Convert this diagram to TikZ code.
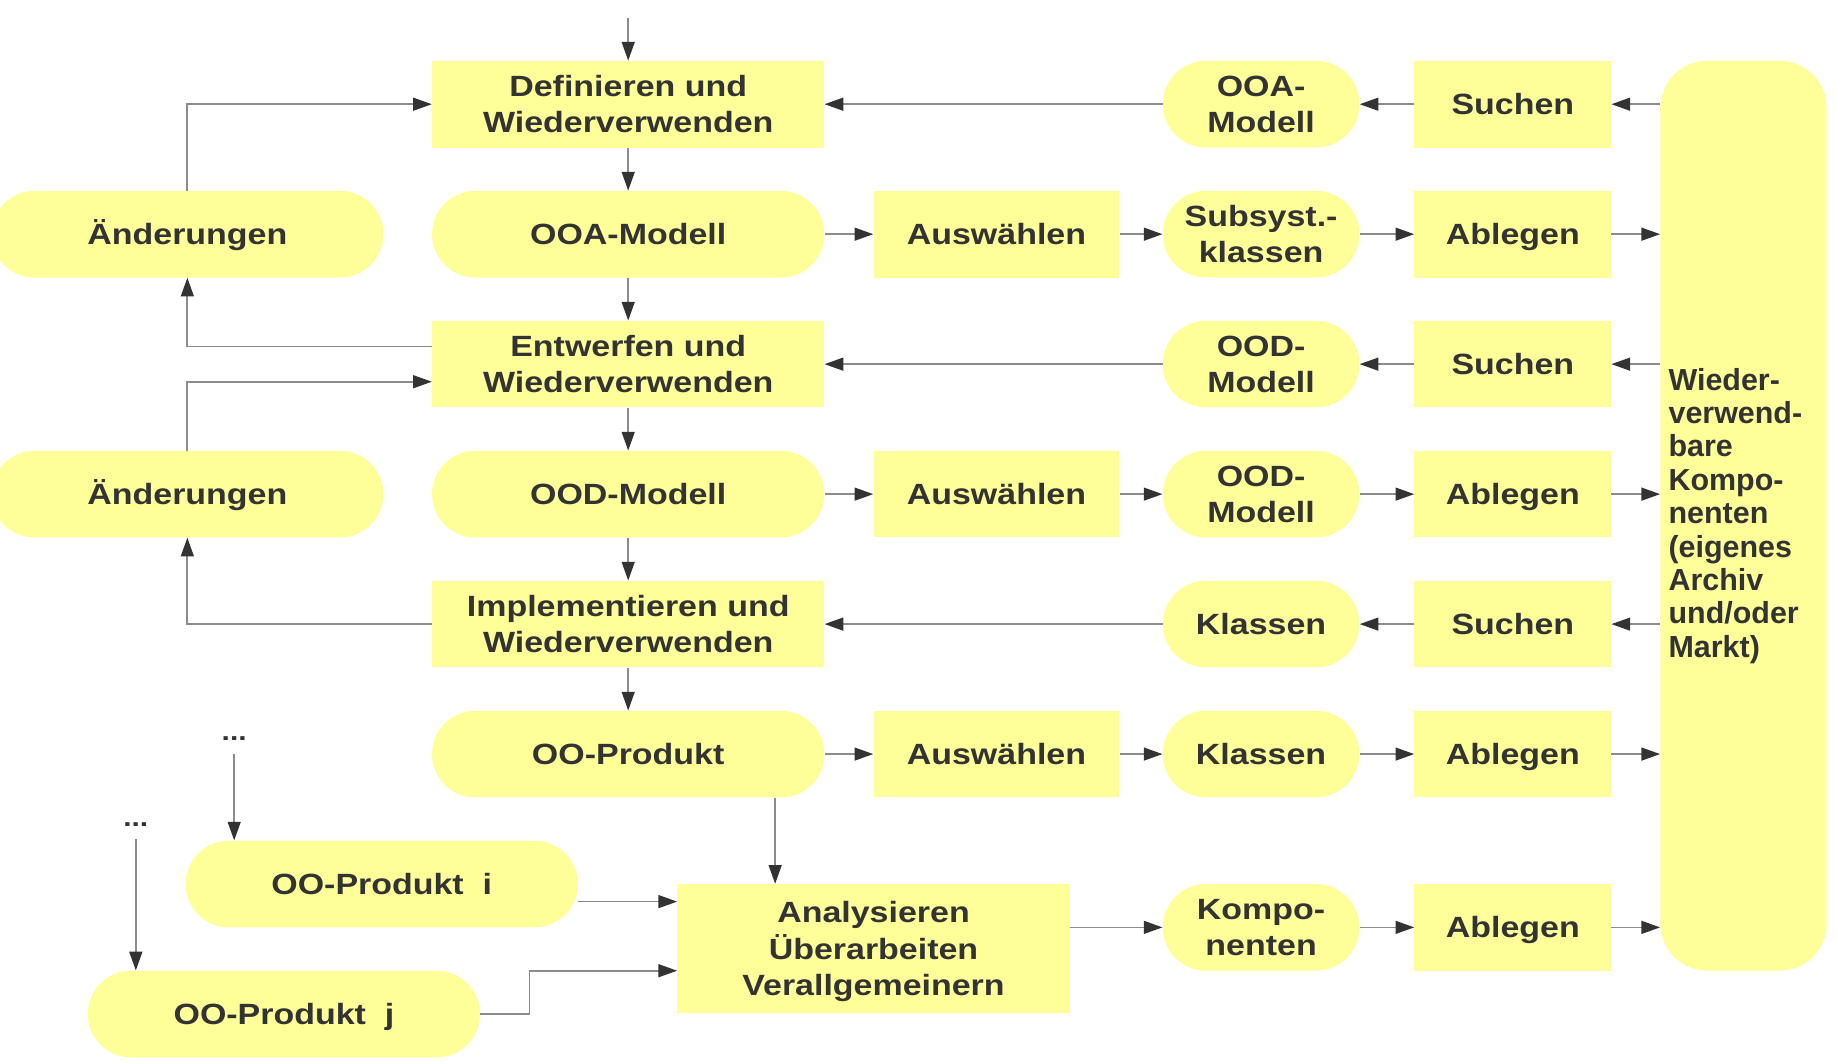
\documentclass[tikz,border=0pt]{standalone}
\usepackage{fontspec}
\setmainfont{Liberation Sans}[FakeStretch=1.16]
\newfontfamily\archivfont{Liberation Sans}
\usetikzlibrary{arrows.meta}
\definecolor{gelb}{HTML}{FFFF99}
\definecolor{txt}{HTML}{333333}
\definecolor{linie}{HTML}{8C8C8C}

\begin{document}
\begin{tikzpicture}[x=1pt, y=-1pt,
    every node/.style={text=txt, font=\fontsize{25}{31}\selectfont\bfseries, align=center, inner sep=0pt},
    flaeche/.style={fill=gelb, minimum height=74pt},
    kasten/.style={flaeche, text height=18pt, text depth=0pt},
    oval/.style={kasten, rounded corners=37pt},
    kasten2/.style={flaeche},
    oval2/.style={flaeche, rounded corners=37pt},
    breit/.style={minimum width=335pt},
    mittel/.style={minimum width=210pt},
    schmal/.style={minimum width=168pt},
    punkte/.style={font=\fontsize{22}{22}\selectfont\bfseries, inner ysep=11pt, text height=3pt, text depth=0pt},
    pfeil/.style={draw=linie, line width=1.5pt, -{Triangle[length=16pt, width=11pt, color=txt, fill=txt]}}]
    \useasboundingbox (0,0) rectangle (1568,907);

    % Hauptspalte
    \coordinate (start) at (536.5,15);
    \node[kasten2, breit] (defin) at (536.5,89) {Definieren und\\Wiederverwenden};
    \node[oval, breit] (ooa) at (536.5,200) {OOA-Modell};
    \node[kasten2, breit] (entw) at (536.5,311) {Entwerfen und\\Wiederverwenden};
    \node[oval, breit] (ood) at (536.5,422) {OOD-Modell};
    \node[kasten2, breit] (impl) at (536.5,533) {Implementieren und\\Wiederverwenden};
    \node[oval, breit] (prod) at (536.5,644) {OO-Produkt};

    % Aenderungen
    \node[oval, breit] (aend1) at (160,200) {Änderungen};
    \node[oval, breit] (aend2) at (160,422) {Änderungen};

    % Auswaehlen, Ergebnisse, Suchen/Ablegen
    \node[kasten, mittel] (ausw1) at (851,200) {Auswählen};
    \node[kasten, mittel] (ausw2) at (851,422) {Auswählen};
    \node[kasten, mittel] (ausw3) at (851,644) {Auswählen};
    \node[oval2, schmal] (ooam) at (1077,89) {OOA-\\Modell};
    \node[oval2, schmal] (subs) at (1077,200) {Subsyst.-\\klassen};
    \node[oval2, schmal] (oodm1) at (1077,311) {OOD-\\Modell};
    \node[oval2, schmal] (oodm2) at (1077,422) {OOD-\\Modell};
    \node[oval, schmal] (kl1) at (1077,533) {Klassen};
    \node[oval, schmal] (kl2) at (1077,644) {Klassen};
    \node[oval2, schmal] (komp) at (1077,792) {Kompo-\\nenten};
    \node[kasten, schmal] (such1) at (1292,89) {Suchen};
    \node[kasten, schmal] (ableg1) at (1292,200) {Ablegen};
    \node[kasten, schmal] (such2) at (1292,311) {Suchen};
    \node[kasten, schmal] (ableg2) at (1292,422) {Ablegen};
    \node[kasten, schmal] (such3) at (1292,533) {Suchen};
    \node[kasten, schmal] (ableg3) at (1292,644) {Ablegen};
    \node[kasten, schmal] (ableg4) at (1292,792) {Ablegen};
    \node[flaeche, rounded corners=40pt, minimum width=142pt, minimum height=777pt, text width=128pt, align=left,
        font=\archivfont\fontsize{26}{28.5}\selectfont\bfseries] (archiv) at (1489,440.5)
        {Wieder-\\verwend-\\bare\\Kompo-\\nenten\\(eigenes\\Archiv\\und/oder\\Markt)};

    % andere Produkte
    \node[punkte] (dots1) at (200,631) {...};
    \node[punkte] (dots2) at (116,704) {...};
    \node[oval, breit] (prodi) at (326,755) {OO-Produkt\ \ i};
    \node[oval, breit] (prodj) at (242.5,866) {OO-Produkt\ \ j};
    \node[kasten2, breit, minimum height=110pt, text depth=0pt] (analys) at (746,810) {Analysieren\\Überarbeiten\\Verallgemeinern};

    \foreach \a/\b in {start/defin, defin/ooa, ooa/entw, entw/ood, ood/impl, impl/prod,
        such1/ooam, ooam/defin, ooa/ausw1, ausw1/subs, subs/ableg1,
        such2/oodm1, oodm1/entw, ood/ausw2, ausw2/oodm2, oodm2/ableg2,
        such3/kl1, kl1/impl, prod/ausw3, ausw3/kl2, kl2/ableg3, komp/ableg4}
        \draw[pfeil] (\a) -- (\b);
    \foreach \s in {such1, such2, such3}
        \draw[pfeil] (archiv.west |- \s) -- (\s);
    \foreach \s in {ableg1, ableg2, ableg3, ableg4}
        \draw[pfeil] (\s) -- (archiv.west |- \s);

    \draw[pfeil] (aend1.north) |- (defin.west);
    \draw[pfeil] ([yshift=15pt]entw.west) -| (aend1.south);
    \draw[pfeil] (aend2.north) |- ([yshift=-15pt]entw.west);
    \draw[pfeil] (impl.west) -| (aend2.south);

    \draw[pfeil] ([xshift=125.5pt]prod.south) -- ([xshift=125.5pt]prod.south |- analys.north);
    \draw[pfeil] (dots1.south) -- (dots1.south |- prodi.north);
    \draw[pfeil] (dots2.south) -- (dots2.south |- prodj.north);
    \draw[pfeil] ([yshift=-15pt]prodi.east) -- ([yshift=-15pt]prodi.east -| analys.west);
    \draw[pfeil] (prodj.east) -- ++(42,0) |- ([yshift=-19pt]analys.west);
    \draw[pfeil] (analys.east |- komp) -- (komp);
\end{tikzpicture}
\end{document}
